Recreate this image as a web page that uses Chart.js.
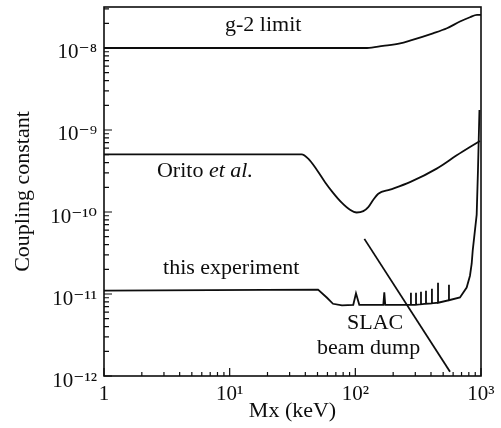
<!DOCTYPE html>
<html>
<head>
<meta charset="utf-8">
<script src="https://cdn.jsdelivr.net/npm/chart.js@4.4.1/dist/chart.umd.min.js"></script>
<style>
  html, body { margin: 0; padding: 0; background: #fff; }
  #wrap { width: 501px; height: 428px; position: relative; }
</style>
</head>
<body>
<div id="wrap"><canvas id="chart"></canvas></div>
<script>
/* ---------- axes ---------- */
const X_DECADES = [1, 10, 100, 1000];
const X_LABELS  = ["1", "10¹", "10²", "10³"];
const Y_DECADES = [1e-12, 1e-11, 1e-10, 1e-9, 1e-8];
const Y_LABELS  = ["10⁻¹²", "10⁻¹¹", "10⁻¹⁰", "10⁻⁹", "10⁻⁸"];

/* ---------- g-2 limit ---------- */
const MX_G2    = [1, 124, 166, 227, 272, 415, 536, 680, 817, 929, 1000];
const G2_LIMIT = [1.0e-8, 1.0e-8, 1.06e-8, 1.14e-8, 1.23e-8, 1.51e-8, 1.74e-8, 2.10e-8, 2.37e-8, 2.53e-8, 2.53e-8];

/* ---------- Orito et al. ---------- */
const MX_ORITO = [1, 37.4, 42.2, 49.3, 57.4, 66.8, 77.9, 90.7, 102.5, 115.7, 126.8, 139, 152.3, 188.7, 272, 444, 641, 817, 981];
const ORITO    = [5.05e-10, 5.05e-10, 4.47e-10, 3.28e-10, 2.31e-10, 1.70e-10, 1.30e-10, 1.064e-10, 9.86e-11, 1.023e-10,
                  1.145e-10, 1.41e-10, 1.67e-10, 1.87e-10, 2.31e-10, 3.38e-10, 4.91e-10, 6.2e-10, 7.35e-10];

/* ---------- this experiment ---------- */
const MX_EXP = [1, 50.5, 59.5, 66.4, 78.3, 96.3, 101.2, 107.5, 167, 170, 173,
                277, 277, 277, 304, 304, 304, 333, 333, 333, 365, 365, 365,
                407, 407, 407, 455, 455, 455, 556, 556, 556,
                680, 769, 817, 843, 859, 924, 946, 972];
const EXP_LIMIT = [1.10e-11, 1.13e-11, 9.0e-12, 7.6e-12, 7.25e-12, 7.38e-12, 1.02e-11, 7.38e-12, 7.38e-12, 1.045e-11, 7.38e-12,
                   7.38e-12, 1.036e-11, 7.38e-12, 7.38e-12, 1.036e-11, 7.38e-12, 7.49e-12, 1.065e-11, 7.49e-12,
                   7.6e-12, 1.096e-11, 7.6e-12, 7.7e-12, 1.16e-11, 7.7e-12, 7.82e-12, 1.373e-11, 7.82e-12,
                   8.39e-12, 1.297e-11, 8.39e-12,
                   9.07e-12, 1.2e-11, 1.67e-11, 2.34e-11, 3.38e-11, 9.3e-11, 3.22e-10, 1.75e-9];

/* ---------- SLAC beam dump ---------- */
const MX_SLAC = [118, 567];
const SLAC    = [4.70e-11, 1.13e-12];

/* ---------- labels in the plot (anchored in data units: left, baseline) ---------- */
const NOTES = [
  { parts: [["g-2 limit", ""]],                 x: 9.18, y: 1.61e-8 },
  { parts: [["Orito ", ""], ["et al.", "italic "]], x: 2.64, y: 2.64e-10 },
  { parts: [["this experiment", ""]],           x: 2.95, y: 1.77e-11 },
  { parts: [["SLAC", ""]],                      x: 85.8, y: 3.76e-12 },
  { parts: [["beam dump", ""]],                 x: 49.5, y: 1.86e-12 }
];

const SERIF = '"Liberation Serif", "Times New Roman", "DejaVu Serif", serif';
const INK = "#0d0d0d";

const pts = (xs, ys) => xs.map((x, i) => ({ x, y: ys[i] }));

function logTicks(decades) {
  return function (scale) {
    const t = [];
    decades.forEach(d => {
      for (let m = 1; m < 10; m++) {
        const v = m === 1 ? d : d * m;
        if (v >= scale.min * 0.999 && v <= scale.max * 1.001) t.push({ value: v });
      }
    });
    scale.ticks = t;
  };
}

const frameAndNotes = {
  id: "frameAndNotes",
  afterDatasetsDraw(chart) {
    const { ctx, chartArea: a, scales: { x, y } } = chart;
    ctx.save();
    ctx.strokeStyle = INK;
    ctx.lineWidth = 1.6;
    ctx.strokeRect(a.left, a.top, a.right - a.left, a.bottom - a.top);

    ctx.lineWidth = 1.2;
    ctx.beginPath();
    x.ticks.forEach(t => {
      const px = x.getPixelForValue(t.value);
      const len = X_DECADES.includes(t.value) ? 8 : 4;
      ctx.moveTo(px, a.bottom);
      ctx.lineTo(px, a.bottom - len);
    });
    y.ticks.forEach(t => {
      const py = y.getPixelForValue(t.value);
      const len = Y_DECADES.includes(t.value) ? 8 : 5;
      ctx.moveTo(a.left, py);
      ctx.lineTo(a.left + len, py);
    });
    ctx.stroke();

    ctx.fillStyle = INK;
    ctx.textBaseline = "alphabetic";
    ctx.textAlign = "left";
    NOTES.forEach(n => {
      let px = x.getPixelForValue(n.x);
      const py = y.getPixelForValue(n.y);
      n.parts.forEach(([txt, style]) => {
        ctx.font = style + "22px " + SERIF;
        ctx.fillText(txt, px, py);
        px += ctx.measureText(txt).width;
      });
    });
    ctx.restore();
  }
};

const line = (label, data, extra) => Object.assign({
  label, data, showLine: true, borderColor: INK, borderWidth: 1.8,
  pointRadius: 0, pointHoverRadius: 0, fill: false
}, extra);

new Chart(document.getElementById("chart"), {
  type: "scatter",
  data: {
    datasets: [
      line("g-2 limit", pts(MX_G2, G2_LIMIT), { cubicInterpolationMode: "monotone" }),
      line("Orito et al.", pts(MX_ORITO, ORITO), { cubicInterpolationMode: "monotone" }),
      line("this experiment", pts(MX_EXP, EXP_LIMIT), { tension: 0 }),
      line("SLAC beam dump", pts(MX_SLAC, SLAC), { tension: 0 })
    ]
  },
  options: {
    responsive: true,
    maintainAspectRatio: false,
    animation: false,
    layout: { padding: { top: 7, right: 20, left: 0, bottom: 0 } },
    plugins: { legend: { display: false }, tooltip: { enabled: false } },
    scales: {
      x: {
        type: "logarithmic",
        min: 1, max: 1000,
        afterBuildTicks: logTicks(X_DECADES),
        afterFit(s) { s.height = 52; },
        grid: { display: false, drawTicks: false },
        border: { display: false },
        ticks: {
          autoSkip: false, maxRotation: 0, padding: 6,
          color: INK, font: { family: SERIF, size: 21 },
          callback(v) { const i = X_DECADES.indexOf(v); return i >= 0 ? X_LABELS[i] : ""; }
        },
        title: {
          display: true, text: "Mx (keV)", color: INK,
          font: { family: SERIF, size: 22 }, padding: { top: 4, bottom: 4 }
        }
      },
      y: {
        type: "logarithmic",
        min: 1e-12, max: 3.16e-8,
        afterBuildTicks: logTicks(Y_DECADES),
        afterFit(s) { s.width = 104; s.paddingTop = 0; s.paddingBottom = 0; },
        grid: { display: false, drawTicks: false },
        border: { display: false },
        ticks: {
          autoSkip: false, padding: 7, labelOffset: 5,
          color: INK, font: { family: SERIF, size: 21 },
          callback(v) { const i = Y_DECADES.indexOf(v); return i >= 0 ? Y_LABELS[i] : ""; }
        },
        title: {
          display: true, text: "Coupling constant", color: INK,
          font: { family: SERIF, size: 22 }, padding: { top: 10, bottom: 4 }
        }
      }
    }
  },
  plugins: [frameAndNotes]
});
</script>
</body>
</html>
